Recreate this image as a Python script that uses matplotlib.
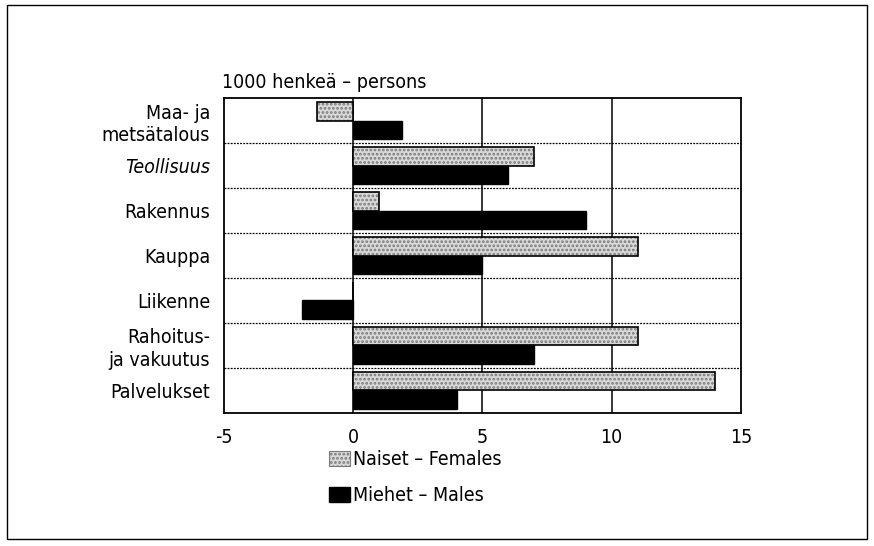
import numpy as np
import matplotlib
matplotlib.use("Agg")
import matplotlib.pyplot as plt
from matplotlib.patches import Patch, Rectangle

plt.rcParams['font.family'] = ['DejaVu Sans']
plt.rcParams['font.stretch'] = 'condensed'
plt.rcParams['hatch.linewidth'] = 1.3

# ── data ────────────────────────────────────────────────────────────────
categories = ["Maa- ja\nmetsätalous", "Teollisuus", "Rakennus", "Kauppa",
              "Liikenne", "Rahoitus-\nja vakuutus", "Palvelukset"]
females = [-1.4, 7.0, 1.0, 11.0, 0.0, 11.0, 14.0]
males = [1.9, 6.0, 9.0, 5.0, -2.0, 7.0, 4.0]
xticks = [-5, 0, 5, 10, 15]
italic_cats = {"Teollisuus"}

fig = plt.figure(figsize=(8.74, 5.46), dpi=100)
ax = fig.add_axes([0.2563, 0.2436, 0.5915, 0.5769])

y = np.arange(len(categories))
h = 0.42
# female bars: grey stipple, then black outline on top
ax.barh(y - 0.21, females, height=h, color="#d8d8d8", edgecolor="#7a7a7a",
        hatch="....", linewidth=0, zorder=3)
ax.barh(y - 0.21, females, height=h, fill=False, edgecolor="black",
        linewidth=1.2, zorder=4)
ax.barh(y + 0.21, males, height=h, color="black", edgecolor="black", zorder=3)

ax.set_xlim(-5, 15)
ax.set_ylim(len(categories) - 0.5, -0.5)
ax.set_xticks(xticks)
ax.set_xticklabels([str(t) for t in xticks], fontsize=14)
ax.set_yticks(y)
ax.set_yticklabels(categories, fontsize=14, linespacing=1.25)
for lbl, cat in zip(ax.get_yticklabels(), categories):
    lbl.set_multialignment("right")
    if cat in italic_cats:
        lbl.set_style("italic")
ax.tick_params(length=0, pad=10)
ax.tick_params(axis="x", pad=11)

for xv in [0, 5, 10]:
    ax.axvline(xv, color="black", lw=1.1, zorder=2)
for b in np.arange(0.5, len(categories) - 0.5, 1):
    ax.axhline(b, color="black", lw=0.9, ls=(0, (1.5, 1)), zorder=2)
for s in ax.spines.values():
    s.set_linewidth(1.3)

fig.text(0.254, 0.838, "1000 henkeä – persons", fontsize=14, ha="left")

handles = [Patch(facecolor="#d8d8d8", edgecolor="#7a7a7a", hatch="....", lw=0.8),
           Patch(facecolor="black", edgecolor="black")]
fig.legend(handles, ["Naiset – Females", "Miehet – Males"], loc="upper left",
           bbox_to_anchor=(0.376, 0.175), frameon=False, fontsize=14,
           handlelength=1.1, handleheight=0.8, handletextpad=0.15,
           labelspacing=0.85, borderpad=0, borderaxespad=0)

# outer frame
fig.patches.append(Rectangle((0.008, 0.012), 0.984, 0.978, transform=fig.transFigure,
                             fill=False, edgecolor="black", lw=1.0))

fig.savefig("out.png", dpi=100)
